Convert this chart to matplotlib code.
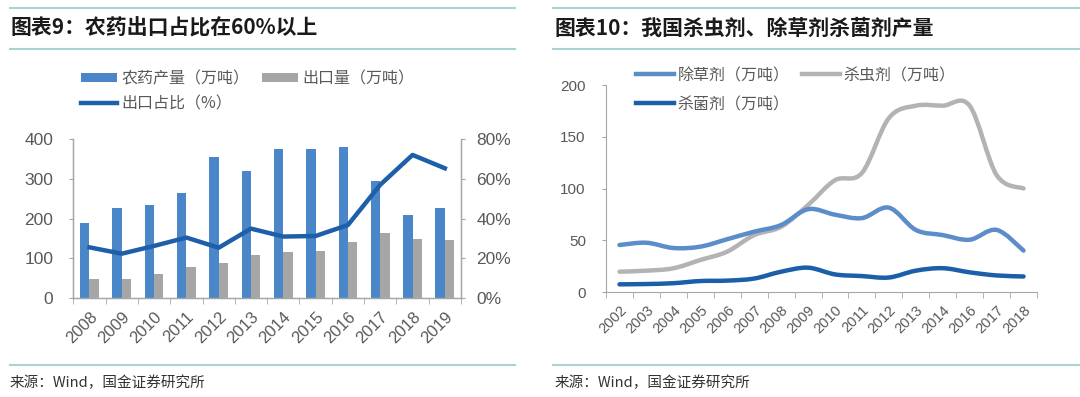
import matplotlib
matplotlib.use("Agg")
import matplotlib.pyplot as plt
import numpy as np
from matplotlib.path import Path
from matplotlib.patches import PathPatch, Patch
from matplotlib.lines import Line2D

# ---------------- data ----------------
years_left = ["2008", "2009", "2010", "2011", "2012", "2013", "2014", "2015", "2016", "2017", "2018", "2019"]
production = [190, 226, 234, 264, 355, 319, 375, 375, 379, 295, 208, 226]
exports = [48, 49, 60, 78, 89, 109, 116, 118, 141, 163, 150, 147]
export_ratio = [25.6, 22.4, 26.3, 30.5, 25.4, 35.0, 31.0, 31.3, 36.8, 57.0, 72.0, 65.3]

years_right = ["2002", "2003", "2004", "2005", "2006", "2007", "2008", "2009", "2010",
               "2011", "2012", "2013", "2014", "2016", "2017", "2018"]
herbicide = [45.4, 47.6, 42.5, 43.8, 51, 58.3, 64.7, 80, 74.7, 71.4, 81.5, 60, 55, 50.5, 60, 40]
insecticide = [19.6, 20.6, 22.9, 30.9, 39, 55, 63, 84, 108, 115, 168, 180, 180, 180, 113, 100]
fungicide = [7.4, 7.7, 8.5, 10.6, 11, 13, 19.6, 23.5, 17, 15.4, 14, 20.6, 23, 19, 16, 15]

W, H = 1080, 397
CJK = ["Noto Sans CJK SC", "DejaVu Sans"]
NUM = ["Liberation Sans", "DejaVu Sans"]
GRID = "#a6a6a6"
TXT = "#595959"
RULE = "#a9d2d6"

fig = plt.figure(figsize=(W / 100, H / 100), dpi=100)


def fx(px):
    return px / W


def fy(py):
    return 1 - py / H


def rule(x0, x1, y):
    fig.add_artist(Line2D([fx(x0), fx(x1)], [fy(y), fy(y)], color=RULE, lw=1.5,
                          transform=fig.transFigure))


# titles & rules
for x0, x1 in [(10, 515), (553, 1080)]:
    rule(x0, x1, 8)
    rule(x0, x1, 49)
    rule(x0, x1, 365)

fig.text(fx(10), fy(28), "图表9：农药出口占比在60%以上", family=CJK, fontsize=15,
         fontweight="bold", color="#1a1a1a", ha="left", va="center")
fig.text(fx(555), fy(28), "图表10：我国杀虫剂、除草剂杀菌剂产量", family=CJK, fontsize=15,
         fontweight="bold", color="#1a1a1a", ha="left", va="center")
fig.text(fx(10), fy(383), "来源：Wind，国金证券研究所", family=CJK, fontsize=10.5,
         color="#333333", ha="left", va="center")
fig.text(fx(555), fy(383), "来源：Wind，国金证券研究所", family=CJK, fontsize=10.5,
         color="#333333", ha="left", va="center")

# ---------------- left chart ----------------
L0, L1, B0, T0 = 73.3, 461, 298.3, 139
axL = fig.add_axes([fx(L0), fy(B0), (L1 - L0) / W, (B0 - T0) / H])
n = len(years_left)
x = np.arange(n)
bw = 0.29
c_prod = "#4a86c8"
c_exp = "#a6a6a6"
c_ratio = "#1d5fa9"
axL.bar(x - bw / 2, production, width=bw, color=c_prod, zorder=2)
axL.bar(x + bw / 2, exports, width=bw, color=c_exp, zorder=2)
axL.set_xlim(-0.5, n - 0.5)
axL.set_ylim(0, 400)
axL.set_yticks([0, 100, 200, 300, 400])
axL.set_xticks(x)
axL.set_xticklabels(years_left, rotation=45, ha="right", rotation_mode="anchor")
axL.set_xticks(np.arange(n + 1) - 0.5, minor=True)
axL.tick_params(axis="x", which="major", length=0, pad=8, labelsize=12, labelcolor=TXT)
axL.tick_params(axis="x", which="minor", length=4, color=GRID, direction="out")
axL.tick_params(axis="y", length=3, color=GRID, pad=11.5, labelsize=12.5, labelcolor=TXT)
for s in ["top"]:
    axL.spines[s].set_visible(False)
for s in ["left", "right", "bottom"]:
    axL.spines[s].set_color(GRID)
    axL.spines[s].set_linewidth(1)
for lab in axL.get_xticklabels() + axL.get_yticklabels():
    lab.set_family(NUM)

axR = axL.twinx()
axR.plot(x, export_ratio, color=c_ratio, lw=3.2, solid_joinstyle="round", zorder=3)
axR.set_ylim(0, 80)
axR.set_yticks([0, 20, 40, 60, 80])
axR.set_yticklabels([f"{v}%" for v in [0, 20, 40, 60, 80]])
axR.tick_params(axis="y", length=3, color=GRID, pad=8, labelsize=12.5, labelcolor=TXT)
axR.spines["top"].set_visible(False)
for s in ["left", "right", "bottom"]:
    axR.spines[s].set_color(GRID)
for lab in axR.get_yticklabels():
    lab.set_family(NUM)

hL = [Patch(facecolor=c_prod, edgecolor="none"),
      Line2D([], [], color=c_ratio, lw=3.2),
      Patch(facecolor=c_exp, edgecolor="none")]
labL = ["农药产量（万吨）", "出口占比（%）", "出口量（万吨）"]
fig.legend(hL, labL, ncol=2, loc="upper left", bbox_to_anchor=(fx(81), fy(70)),
           frameon=False, borderpad=0, borderaxespad=0, handlelength=2.25,
           handleheight=0.45, handletextpad=0.3, columnspacing=0.75, labelspacing=0.5,
           prop={"family": CJK, "size": 11.5}, labelcolor=TXT)

# ---------------- right chart ----------------
R0, R1, RB, RT = 606, 1037, 292, 85
ax2 = fig.add_axes([fx(R0), fy(RB), (R1 - R0) / W, (RB - RT) / H])
m = len(years_right)
xr = np.arange(m)


def smooth_patch(xs, ys, color):
    xs = np.asarray(xs, float)
    ys = np.asarray(ys, float)
    k = len(xs)
    verts = [(xs[0], ys[0])]
    codes = [Path.MOVETO]
    for i in range(k - 1):
        p0 = i - 1 if i > 0 else i
        p3 = i + 2 if i + 2 < k else i + 1
        c1 = (xs[i] + (xs[i + 1] - xs[p0]) / 6, ys[i] + (ys[i + 1] - ys[p0]) / 6)
        c2 = (xs[i + 1] - (xs[p3] - xs[i]) / 6, ys[i + 1] - (ys[p3] - ys[i]) / 6)
        verts += [c1, c2, (xs[i + 1], ys[i + 1])]
        codes += [Path.CURVE4] * 3
    return PathPatch(Path(verts, codes), fill=False, edgecolor=color, lw=3.2,
                     capstyle="round", joinstyle="round")


c_herb = "#5b8dc9"
c_ins = "#b3b3b3"
c_fun = "#1a5fa8"
ax2.add_patch(smooth_patch(xr, insecticide, c_ins))
ax2.add_patch(smooth_patch(xr, herbicide, c_herb))
ax2.add_patch(smooth_patch(xr, fungicide, c_fun))
ax2.set_xlim(-0.5, m - 0.5)
ax2.set_ylim(0, 200)
ax2.set_yticks([0, 50, 100, 150, 200])
ax2.set_xticks(xr)
ax2.set_xticklabels(years_right, rotation=45, ha="right", rotation_mode="anchor")
ax2.set_xticks(np.arange(m + 1) - 0.5, minor=True)
ax2.tick_params(axis="x", which="major", length=0, pad=8, labelsize=10.5, labelcolor=TXT)
ax2.tick_params(axis="x", which="minor", length=4, color=GRID, direction="out")
ax2.tick_params(axis="y", length=3, color=GRID, pad=11.5, labelsize=11, labelcolor=TXT)
for s in ["top", "right"]:
    ax2.spines[s].set_visible(False)
for s in ["left", "bottom"]:
    ax2.spines[s].set_color(GRID)
for lab in ax2.get_xticklabels() + ax2.get_yticklabels():
    lab.set_family(NUM)

h2 = [Line2D([], [], color=c_herb, lw=3.2),
      Line2D([], [], color=c_fun, lw=3.2),
      Line2D([], [], color=c_ins, lw=3.2)]
lab2 = ["除草剂（万吨）", "杀菌剂（万吨）", "杀虫剂（万吨）"]
fig.legend(h2, lab2, ncol=2, loc="upper left", bbox_to_anchor=(fx(636), fy(67)),
           frameon=False, borderpad=0, borderaxespad=0, handlelength=2.4,
           handletextpad=0.2, columnspacing=0.75, labelspacing=0.75,
           prop={"family": CJK, "size": 11.5}, labelcolor=TXT)

fig.savefig("out.png", dpi=100)
